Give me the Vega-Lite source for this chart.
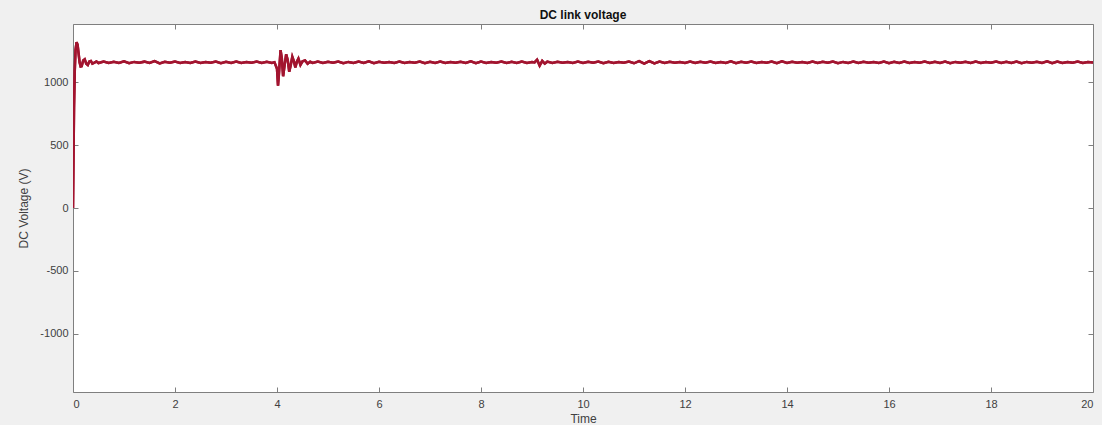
{
  "$schema": "https://vega.github.io/schema/vega-lite/v6.json",
  "width": 1020,
  "height": 368,
  "autosize": {"type": "none"},
  "padding": {"left": 73, "top": 24, "right": 9, "bottom": 33},
  "background": "#f0f0f0",
  "title": {"text": "DC link voltage", "font": "Liberation Sans", "fontSize": 12, "fontWeight": "bold", "color": "#111111", "offset": 2},
  "config": {
    "view": {"fill": "white", "stroke": null},
    "axis": {"domainColor": "#7f7f7f", "tickColor": "#7f7f7f", "labelColor": "#404040", "labelFont": "Liberation Sans", "labelFontSize": 11, "titleFont": "Liberation Sans", "titleFontSize": 12, "titleFontWeight": "normal", "titleColor": "#404040", "grid": false, "tickSize": -5, "domainWidth": 1, "tickWidth": 1, "labelExpr": "datum.value + ''"}
  },
  "data": {"values": [
    {"t":0,"v":0},{"t":0.01,"v":400},{"t":0.02,"v":800},{"t":0.035,"v":1100},{"t":0.05,"v":1260},{"t":0.07,"v":1322},{"t":0.09,"v":1300},{"t":0.11,"v":1230},{"t":0.13,"v":1160},{"t":0.15,"v":1128},{"t":0.17,"v":1130},{"t":0.2,"v":1175},{"t":0.23,"v":1185},{"t":0.26,"v":1150},{"t":0.29,"v":1140},{"t":0.32,"v":1168},{"t":0.35,"v":1172},{"t":0.38,"v":1150},{"t":0.42,"v":1158},{"t":0.46,"v":1168},{"t":0.5,"v":1155},
    {"t":0.6,"v":1167},{"t":0.7,"v":1155},{"t":0.8,"v":1165},{"t":0.9,"v":1156},{"t":1.0,"v":1168},{"t":1.1,"v":1154},{"t":1.2,"v":1164},{"t":1.3,"v":1158},{"t":1.4,"v":1166},{"t":1.5,"v":1155},{"t":1.6,"v":1170},{"t":1.7,"v":1152},{"t":1.8,"v":1165},{"t":1.9,"v":1157},{"t":2.0,"v":1166},{"t":2.1,"v":1156},{"t":2.2,"v":1164},{"t":2.3,"v":1155},{"t":2.4,"v":1167},{"t":2.5,"v":1156},{"t":2.6,"v":1163},{"t":2.7,"v":1157},{"t":2.8,"v":1166},{"t":2.9,"v":1154},{"t":3.0,"v":1165},{"t":3.1,"v":1156},{"t":3.2,"v":1167},{"t":3.3,"v":1155},{"t":3.4,"v":1164},{"t":3.5,"v":1157},{"t":3.6,"v":1166},{"t":3.7,"v":1155},{"t":3.8,"v":1165},{"t":3.9,"v":1156},
    {"t":3.95,"v":1162},{"t":4.0,"v":1110},{"t":4.02,"v":975},{"t":4.04,"v":1080},{"t":4.07,"v":1258},{"t":4.095,"v":1190},{"t":4.12,"v":1050},{"t":4.15,"v":1140},{"t":4.18,"v":1225},{"t":4.21,"v":1180},{"t":4.24,"v":1085},{"t":4.27,"v":1140},{"t":4.3,"v":1205},{"t":4.33,"v":1170},{"t":4.36,"v":1120},{"t":4.39,"v":1165},{"t":4.42,"v":1190},{"t":4.46,"v":1140},{"t":4.5,"v":1168},{"t":4.55,"v":1175},{"t":4.6,"v":1150},{"t":4.65,"v":1165},
    {"t":4.7,"v":1156},{"t":4.8,"v":1166},{"t":4.9,"v":1155},{"t":5.0,"v":1165},{"t":5.1,"v":1157},{"t":5.2,"v":1167},{"t":5.3,"v":1154},{"t":5.4,"v":1164},{"t":5.5,"v":1156},{"t":5.6,"v":1166},{"t":5.7,"v":1155},{"t":5.8,"v":1168},{"t":5.9,"v":1153},{"t":6.0,"v":1165},{"t":6.1,"v":1157},{"t":6.2,"v":1164},{"t":6.3,"v":1156},{"t":6.4,"v":1166},{"t":6.5,"v":1155},{"t":6.6,"v":1163},{"t":6.7,"v":1158},{"t":6.8,"v":1167},{"t":6.9,"v":1154},{"t":7.0,"v":1165},{"t":7.1,"v":1156},{"t":7.2,"v":1166},{"t":7.3,"v":1155},{"t":7.4,"v":1164},{"t":7.5,"v":1157},{"t":7.6,"v":1165},{"t":7.7,"v":1156},{"t":7.8,"v":1168},{"t":7.9,"v":1153},{"t":8.0,"v":1166},{"t":8.1,"v":1156},{"t":8.2,"v":1164},{"t":8.3,"v":1157},{"t":8.4,"v":1166},{"t":8.5,"v":1155},{"t":8.6,"v":1165},{"t":8.7,"v":1156},{"t":8.8,"v":1167},{"t":8.9,"v":1155},{"t":9.0,"v":1163},
    {"t":9.05,"v":1160},{"t":9.1,"v":1182},{"t":9.15,"v":1135},{"t":9.2,"v":1172},{"t":9.25,"v":1150},
    {"t":9.3,"v":1166},{"t":9.4,"v":1156},{"t":9.5,"v":1165},{"t":9.6,"v":1157},{"t":9.7,"v":1164},{"t":9.8,"v":1156},{"t":9.9,"v":1166},{"t":10.0,"v":1155},{"t":10.1,"v":1165},{"t":10.2,"v":1157},{"t":10.3,"v":1167},{"t":10.4,"v":1154},{"t":10.5,"v":1165},{"t":10.6,"v":1156},{"t":10.7,"v":1164},{"t":10.8,"v":1157},{"t":10.9,"v":1166},{"t":11.0,"v":1153},{"t":11.1,"v":1170},{"t":11.2,"v":1150},{"t":11.3,"v":1171},{"t":11.4,"v":1152},{"t":11.5,"v":1166},{"t":11.6,"v":1156},{"t":11.7,"v":1165},{"t":11.8,"v":1157},{"t":11.9,"v":1164},{"t":12.0,"v":1156},{"t":12.1,"v":1166},{"t":12.2,"v":1155},{"t":12.3,"v":1165},{"t":12.4,"v":1157},{"t":12.5,"v":1167},{"t":12.6,"v":1155},{"t":12.7,"v":1164},{"t":12.8,"v":1156},{"t":12.9,"v":1168},{"t":13.0,"v":1153},{"t":13.1,"v":1165},{"t":13.2,"v":1157},{"t":13.3,"v":1166},{"t":13.4,"v":1155},{"t":13.5,"v":1164},{"t":13.6,"v":1157},{"t":13.7,"v":1166},{"t":13.8,"v":1154},{"t":13.9,"v":1168},{"t":14.0,"v":1155},{"t":14.1,"v":1165},{"t":14.2,"v":1157},{"t":14.3,"v":1164},{"t":14.4,"v":1156},{"t":14.5,"v":1166},{"t":14.6,"v":1155},{"t":14.7,"v":1165},{"t":14.8,"v":1157},{"t":14.9,"v":1167},{"t":15.0,"v":1154},{"t":15.1,"v":1164},{"t":15.2,"v":1156},{"t":15.3,"v":1166},{"t":15.4,"v":1155},{"t":15.5,"v":1165},{"t":15.6,"v":1157},{"t":15.7,"v":1164},{"t":15.8,"v":1156},{"t":15.9,"v":1167},{"t":16.0,"v":1154},{"t":16.1,"v":1165},{"t":16.2,"v":1156},{"t":16.3,"v":1166},{"t":16.4,"v":1155},{"t":16.5,"v":1164},{"t":16.6,"v":1157},{"t":16.7,"v":1166},{"t":16.8,"v":1155},{"t":16.9,"v":1165},{"t":17.0,"v":1156},{"t":17.1,"v":1167},{"t":17.2,"v":1154},{"t":17.3,"v":1164},{"t":17.4,"v":1157},{"t":17.5,"v":1165},{"t":17.6,"v":1156},{"t":17.7,"v":1166},{"t":17.8,"v":1155},{"t":17.9,"v":1164},{"t":18.0,"v":1157},{"t":18.1,"v":1166},{"t":18.2,"v":1155},{"t":18.3,"v":1165},{"t":18.4,"v":1156},{"t":18.5,"v":1167},{"t":18.6,"v":1154},{"t":18.7,"v":1164},{"t":18.8,"v":1157},{"t":18.9,"v":1165},{"t":19.0,"v":1156},{"t":19.1,"v":1168},{"t":19.2,"v":1153},{"t":19.3,"v":1166},{"t":19.4,"v":1156},{"t":19.5,"v":1164},{"t":19.6,"v":1157},{"t":19.7,"v":1166},{"t":19.8,"v":1155},{"t":19.9,"v":1163},{"t":20.0,"v":1160}
  ]},
  "layer": [
    {
      "mark": {"type": "line", "color": "#A2142F", "strokeWidth": 2.5, "clip": true},
      "encoding": {
        "x": {"field": "t", "type": "quantitative", "scale": {"domain": [0, 20], "nice": false},
              "axis": {"orient": "bottom", "values": [0,2,4,6,8,10,12,14,16,18,20], "title": "Time", "labelPadding": 11, "titlePadding": 4}},
        "y": {"field": "v", "type": "quantitative", "scale": {"domain": [-1466, 1466], "nice": false, "zero": false},
              "axis": {"orient": "left", "values": [-1000,-500,0,500,1000], "title": "DC Voltage (V)", "labelPadding": 10, "titlePadding": 9}}
      }
    },
    {
      "mark": {"type": "line", "color": "#A2142F", "strokeWidth": 2.5, "clip": true},
      "encoding": {
        "x": {"field": "t", "type": "quantitative", "axis": {"orient": "top", "values": [0,2,4,6,8,10,12,14,16,18,20], "labels": false, "title": null}},
        "y": {"field": "v", "type": "quantitative", "axis": {"orient": "right", "values": [-1000,-500,0,500,1000], "labels": false, "title": null}}
      }
    }
  ],
  "resolve": {"axis": {"x": "independent", "y": "independent"}}
}
